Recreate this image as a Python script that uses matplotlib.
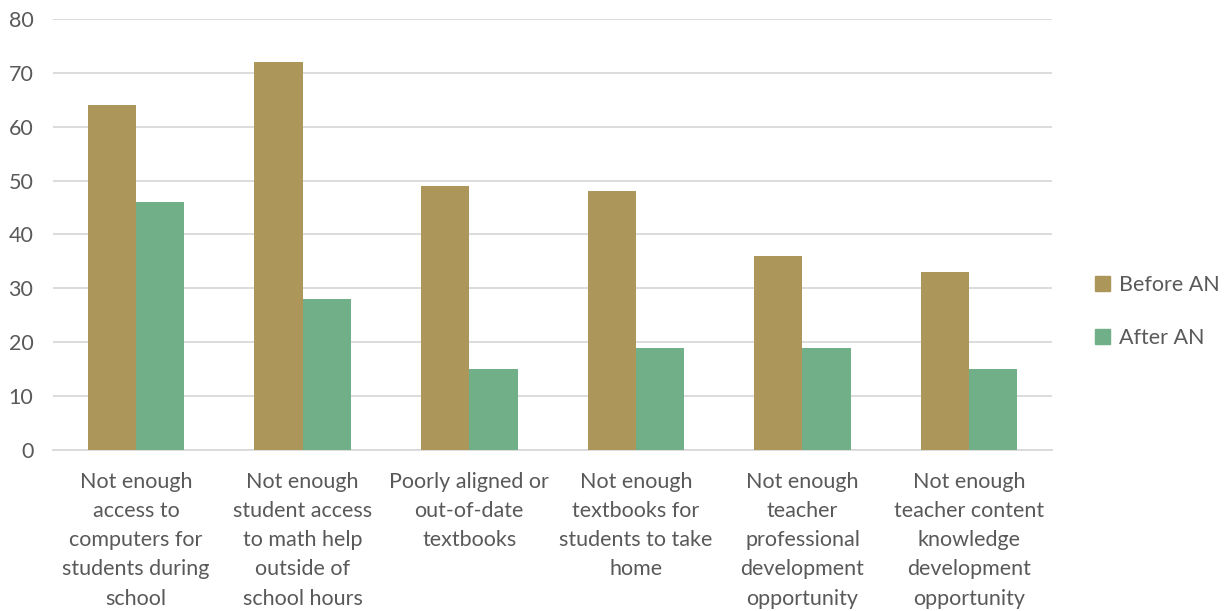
import numpy as np
import matplotlib.pyplot as plt
from matplotlib.patches import Patch

categories = [
    "Not enough\naccess to\ncomputers for\nstudents during\nschool",
    "Not enough\nstudent access\nto math help\noutside of\nschool hours",
    "Poorly aligned or\nout-of-date\ntextbooks",
    "Not enough\ntextbooks for\nstudents to take\nhome",
    "Not enough\nteacher\nprofessional\ndevelopment\nopportunity",
    "Not enough\nteacher content\nknowledge\ndevelopment\nopportunity",
]
before_an = [64, 72, 49, 48, 36, 33]
after_an = [46, 28, 15, 19, 19, 15]
y_ticks = [0, 10, 20, 30, 40, 50, 60, 70, 80]

text_color = "#595959"
plt.rcParams["font.family"] = ["Lato", "DejaVu Sans"]

fig = plt.figure(figsize=(12.28, 6.11), dpi=100)
ax = fig.add_axes([0.043, 0.2635, 0.814, 0.7055])

x = np.arange(len(categories))
w = 0.29
ax.bar(x - w / 2, before_an, w, color="#AD9659", zorder=3)
ax.bar(x + w / 2, after_an, w, color="#70AF87", zorder=3)

ax.set_xlim(-0.5, len(categories) - 0.5)
ax.set_ylim(0, 80)
ax.set_yticks(y_ticks)
ax.set_xticks(x)
ax.set_xticklabels(categories, fontsize=15.5, color=text_color, linespacing=1.58)
ax.tick_params(axis="y", labelsize=15.5, labelcolor=text_color, length=0, pad=14)
ax.tick_params(axis="x", length=0, pad=15.5)
ax.grid(axis="y", color="#d9d9d9", linewidth=1.3, zorder=0)
for s in ["top", "right", "left"]:
    ax.spines[s].set_visible(False)
ax.spines["bottom"].set_color("#d9d9d9")
ax.spines["bottom"].set_linewidth(1.3)

handles = [Patch(color="#AD9659", label="Before AN"),
           Patch(color="#70AF87", label="After AN")]
fig.legend(handles=handles, loc="center left", bbox_to_anchor=(0.876, 0.49),
           frameon=False, fontsize=15.5, labelcolor=text_color,
           handlelength=0.7, handleheight=0.7, handletextpad=0.4,
           labelspacing=1.5)

fig.savefig("out.png", dpi=100)
